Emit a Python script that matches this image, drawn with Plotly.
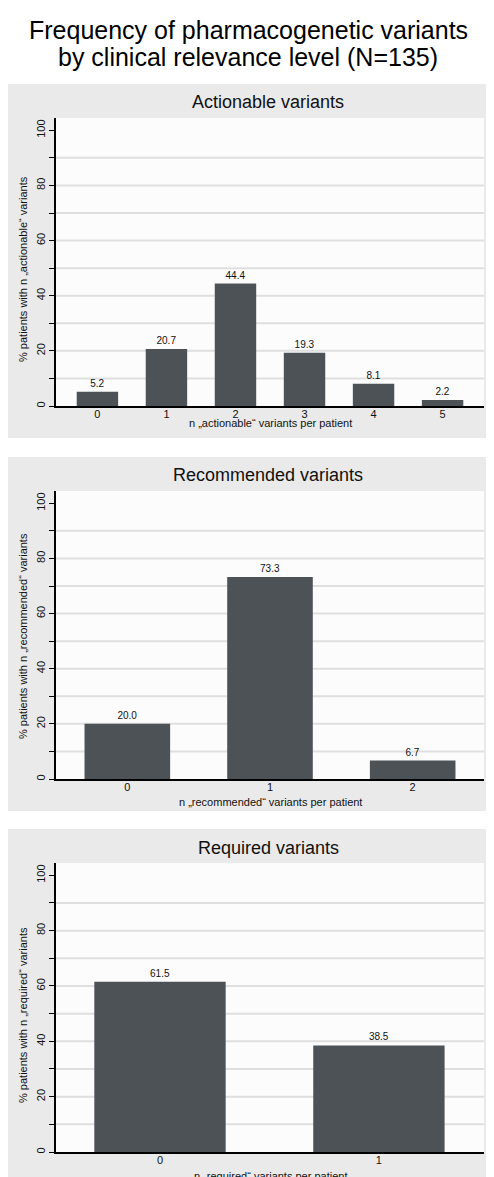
import plotly.graph_objects as go

# ---- data ----
actionable_n = ["0", "1", "2", "3", "4", "5"]
actionable_pct = [5.2, 20.7, 44.4, 19.3, 8.1, 2.2]

recommended_n = ["0", "1", "2"]
recommended_pct = [20.0, 73.3, 6.7]

required_n = ["0", "1"]
required_pct = [61.5, 38.5]

panel_titles = ["Actionable variants", "Recommended variants", "Required variants"]
x_titles = ["n „actionable“ variants per patient",
            "n „recommended“ variants per patient",
            "n „required“ variants per patient"]
y_titles = ["% patients with n „actionable“ variants",
            "% patients with n „recommended“ variants",
            "% patients with n „required“ variants"]
y_ticks = [0, 10, 20, 30, 40, 50, 60, 70, 80, 90, 100]
y_labels = ["0", "", "20", "", "40", "", "60", "", "80", "", "100"]
grid_vals = [10, 20, 30, 40, 50, 60, 70, 80, 90]

# ---- layout geometry (pixels of the page; the page body has an 8px margin) ----
OFF = 8
W, H = 494 - OFF, 1177 - OFF
FONT = "Liberation Sans, Arial, Helvetica, sans-serif"
BAR = "#4d5257"
PANEL = "#eaeaea"
PLOTBG = "#fcfcfc"
GRID = "#dfdfdf"
TXT = "#111111"


def py(p):
    return 1 - (p - OFF) / H


def px(p):
    return (p - OFF) / W


panels = [
    dict(grey=(84, 438), plot=(118, 406), title=102, xtitle=423, ytitle=269,
         cats=actionable_n, vals=actionable_pct, xr=[-0.6, 5.6]),
    dict(grey=(457, 811), plot=(491, 779), title=475, xtitle=802, ytitle=636,
         cats=recommended_n, vals=recommended_pct, xr=[-0.5, 2.5]),
    dict(grey=(829, 1200), plot=(863, 1152), title=848, xtitle=1176, ytitle=1015,
         cats=required_n, vals=required_pct, xr=[-0.475, 1.48]),
]

fig = go.Figure()
shapes = []
annotations = []
X0, X1, GX1 = 56, 484, 491
tickfont = dict(size=11, color=TXT, family=FONT)


def band(x0, x1, y0, y1):
    # grey frame piece around a plot area (pixel coords -> paper coords)
    return dict(type="rect", xref="paper", yref="paper",
                x0=px(x0), x1=px(x1), y0=py(y1), y1=py(y0),
                fillcolor=PANEL, line=dict(width=0), layer="below")


for i, p in enumerate(panels):
    k = i + 1
    xa = "x" if k == 1 else f"x{k}"
    ya = "y" if k == 1 else f"y{k}"
    gy0, gy1 = p["grey"]
    top, bot = p["plot"]
    shapes.append(band(0, GX1, gy0, top))
    shapes.append(band(0, GX1, bot, gy1))
    shapes.append(band(0, X0, top, bot))
    shapes.append(band(X1, GX1, top, bot))
    # horizontal gridlines at the 10-step values (in data units of the y axis)
    for v in grid_vals:
        shapes.append(dict(type="line", xref=f"{xa} domain", yref=ya,
                           x0=0, x1=1, y0=v, y1=v,
                           line=dict(color=GRID, width=2), layer="below"))

    ymax = 100 * (bot - top) / (bot - (top + 12.3))
    fig.add_trace(go.Bar(
        x=list(range(len(p["cats"]))), y=p["vals"],
        xaxis=xa, yaxis=ya,
        marker=dict(color=BAR, line=dict(width=0)),
        width=0.6,
        text=[f"{v:.1f}" for v in p["vals"]],
        textposition="outside",
        textfont=dict(size=10, color=TXT, family=FONT),
        cliponaxis=False,
        showlegend=False,
        hoverinfo="skip",
    ))
    xkey = "xaxis" if k == 1 else f"xaxis{k}"
    ykey = "yaxis" if k == 1 else f"yaxis{k}"
    fig.layout[xkey] = dict(
        domain=[px(X0), px(X1)], anchor=ya, range=p["xr"],
        tickvals=list(range(len(p["cats"]))), ticktext=p["cats"],
        showline=True, linecolor="black", linewidth=1.5,
        ticks="", showgrid=False, zeroline=False,
        ticklabelstandoff=-3,
        tickfont=tickfont, fixedrange=True,
    )
    fig.layout[ykey] = dict(
        domain=[py(bot), py(top)], anchor=xa, range=[0, ymax],
        tickmode="array", tickvals=y_ticks, ticktext=y_labels,
        ticks="outside", ticklen=5, tickwidth=1.2, tickcolor="black",
        tickangle=-90,
        showline=True, linecolor="black", linewidth=1.5,
        showgrid=False, zeroline=False,
        tickfont=tickfont, fixedrange=True,
    )
    annotations.append(dict(text=panel_titles[i], xref="paper", yref="paper",
                            x=px(268), y=py(p["title"]), showarrow=False,
                            xanchor="center", yanchor="middle",
                            font=dict(size=18, color=TXT, family=FONT)))
    annotations.append(dict(text=x_titles[i], xref="paper", yref="paper",
                            x=px(270), y=py(p["xtitle"]), showarrow=False,
                            xanchor="center", yanchor="middle",
                            font=dict(size=11, color=TXT, family=FONT)))
    annotations.append(dict(text=y_titles[i], xref="paper", yref="paper",
                            x=px(23), y=py(p["ytitle"]), showarrow=False,
                            textangle=-90, xanchor="center", yanchor="middle",
                            font=dict(size=11, color=TXT, family=FONT)))

annotations.append(dict(text="Frequency of pharmacogenetic variants",
                        xref="paper", yref="paper", x=px(248), y=py(30),
                        showarrow=False, xanchor="center", yanchor="middle",
                        font=dict(size=25, color="black", family=FONT)))
annotations.append(dict(text="by clinical relevance level (N=135)",
                        xref="paper", yref="paper", x=px(248), y=py(57),
                        showarrow=False, xanchor="center", yanchor="middle",
                        font=dict(size=25, color="black", family=FONT)))

fig.update_layout(
    width=W, height=H,
    margin=dict(l=0, r=0, t=0, b=0, autoexpand=False),
    paper_bgcolor="white", plot_bgcolor=PLOTBG,
    shapes=shapes, annotations=annotations,
    showlegend=False,
    font=dict(family=FONT, color=TXT),
)

fig.write_html("out.html")
